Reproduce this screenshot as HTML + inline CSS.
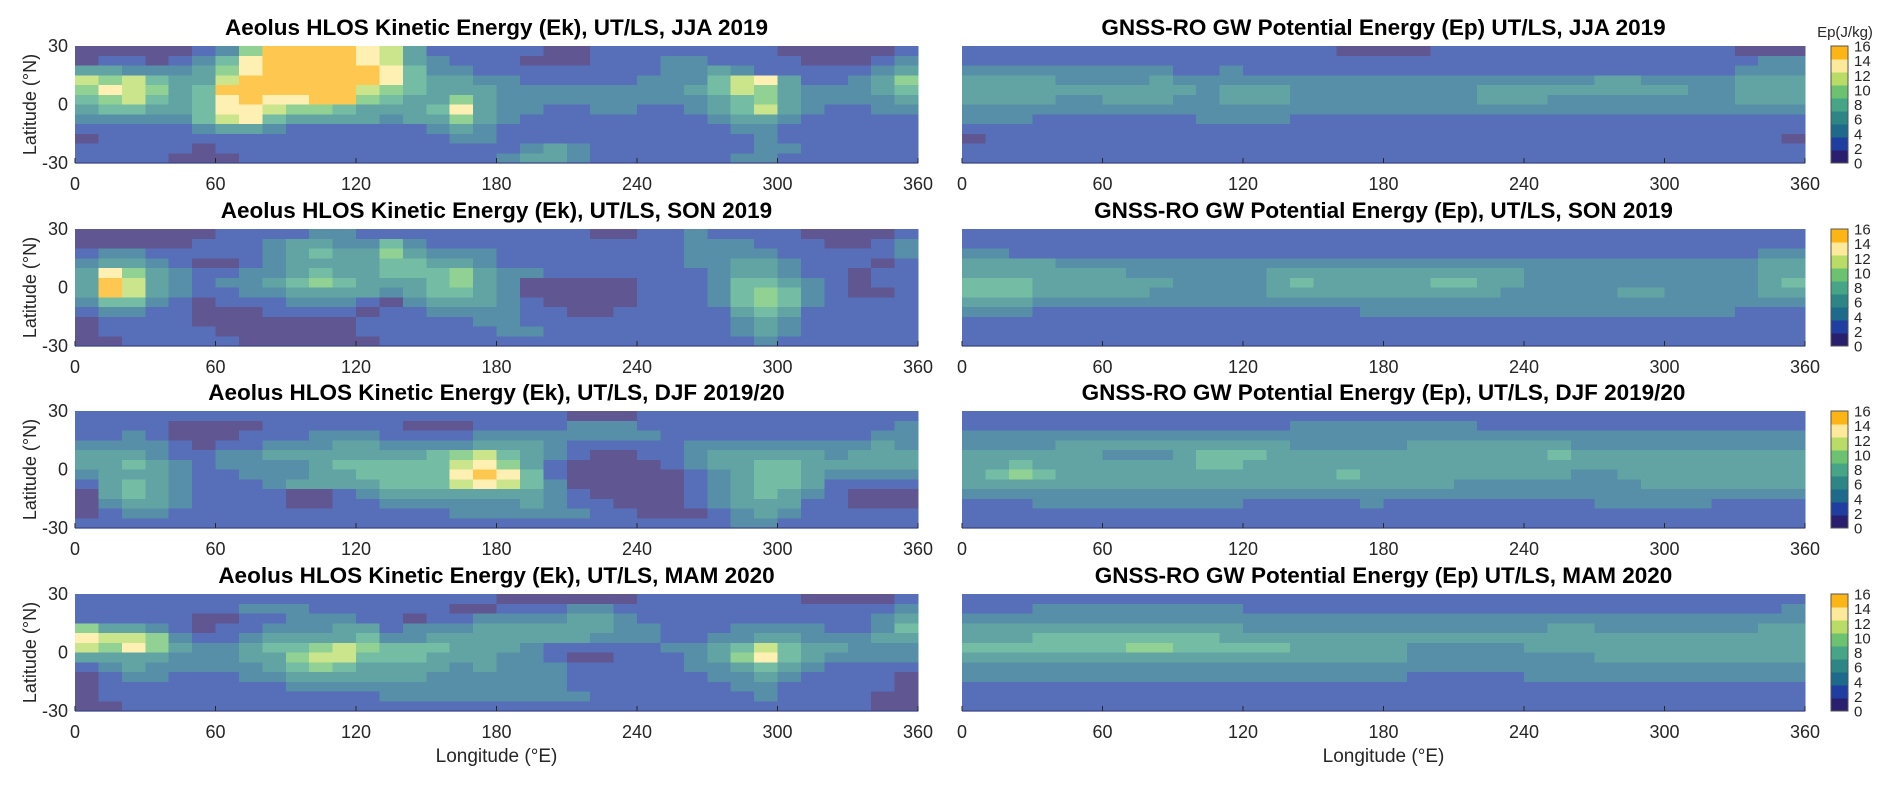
<!DOCTYPE html>
<html><head><meta charset="utf-8"><style>
html,body{margin:0;padding:0;background:#fff;}
svg{display:block;font-family:"Liberation Sans",Arial,sans-serif;}
</style></head><body>
<svg id="fig" width="1892" height="787" viewBox="0 0 1892 787" xmlns="http://www.w3.org/2000/svg"></svg>
<script>
// Bin levels (0..8 -> 0-2,2-4,...,16+ J/kg), rows from 27.5N to 27.5S, columns 0-10E ... 350-360E
const lonTicks = [0, 60, 120, 180, 240, 300, 360];
const latTicks = [30, 0, -30];
const cbarTicks = [16, 14, 12, 10, 8, 6, 4, 2, 0];
const titlesLeft = ["Aeolus HLOS Kinetic Energy (Ek), UT/LS, JJA 2019","Aeolus HLOS Kinetic Energy (Ek), UT/LS, SON 2019","Aeolus HLOS Kinetic Energy (Ek), UT/LS, DJF 2019/20","Aeolus HLOS Kinetic Energy (Ek), UT/LS, MAM 2020"];
const titlesRight = ["GNSS-RO GW Potential Energy (Ep) UT/LS, JJA 2019","GNSS-RO GW Potential Energy (Ep), UT/LS, SON 2019","GNSS-RO GW Potential Energy (Ep), UT/LS, DJF 2019/20","GNSS-RO GW Potential Energy (Ep) UT/LS, MAM 2020"];
const ekJJA = ["000001258888763111110011111111000001","011012478888763211100011122111100012","332223578888874221111111122321111123","656433688888874332211111222467311235","576534888888654333222222223465322234","456434787788543353222222222345322223","344334776554333473221122112346321122","222224674333323353211111111233211111","111112332111111232111111111122111111","011111111111111122111111111112111111","111110111111111111123211111112211111","111100011111111111233211111122111111"];
const ekSON = ["000000111122111111111100112111100001","000001112332242111111111112221110012","122111112343353222111111112222111112","233210012333344332111111112233211101","375321122343344453221111111233211011","386321223454333453200000111244321011","386321122333323443200000111245421001","244210111222102333210000111245421111","122110001111011222211001111134311111","011110000000111112211111111123211111","011111000000111111221111111123211111","001111100000011111111111111112111111"];
const ekDJF = ["111111111111111111111000111111111111","111100001111110001111222111111111112","112100011122211112222222211111111122","222210112223322223332111112222222232","333211223333333456432100112333332333","334321222234444467531000012334433333","233321122233444478741000001234432222","134321112333344467642000001234431111","034321111001233333332100001234321000","023321111001122222232110001233311000","012211111111111122222211000123211111","111111111111111111111111111122111111"];
const ekMAM = ["111111111111111111000000111111100001","111111122211111100111221111111111112","111110011222110112222332111111111123","533210112223312223333332211122221124","766521123333422333333322211223322233","657532234456544433321111122346433222","333322233566444333221001112357432222","123222223454333323222111112234321111","012211122333333222222111111223211110","011111111222222222222111111122111110","011111111111122222222211111112111100","001111111111111111111111111111111100"];
const epJJA = ["111111111111111100001111111111111000","111111111111111111111111111111111122","222222222112111111111111111111111222","333322223222222222222222222332222333","333333333323332222222233333333322333","333322333223332222222233322222222333","222222222222222222222222222222222222","222111111122221111111111111111111111","111111111111111111111111111111111111","011111111111111111111111111111111110","111111111111111111111111111111111111","111111111111111111111111111111111111"];
const epSON = ["111111111111111111111111111111111111","111111111111111111111111111111111111","221111111111111111111111111111111122","333322222222222222222222222222222233","333333322222233333333333222222222233","444333333222234333334433222222222234","444333332222233333333332222233222233","333222222222222222222222222222222222","222111111111111112222222222222222111","111111111111111111111111111111111111","111111111111111111111111111111111111","111111111111111111111111111111111111"];
const epDJF = ["111111111111111111111111111111111111","111111111111112222222211111111111111","222222222222222222222222222222222222","222233333333332222233333332222222222","333333222344433333333333343333333333","334333333344333333333333333333333333","345433333333333343333333332233333333","333333333333333333333222222223333333","222222222222222222222222222222222222","111222222222111112111111111222221111","111111111111111111111111111111111111","111111111111111111111111111111111111"];
const epMAM = ["111111111111111111111111111111111111","111222222222111111111111111111111112","222222222222222222222222222222222222","333333333333222222222222233222222233","333444444443333333333333333333333333","444444455444443333322222333333333333","333333333333333333322222222333333333","222222222222222222222222222222222222","222222222222222222211111222222222222","111111111111111111111111111111111111","111111111111111111111111111111111111","111111111111111111111111111111111111"];
const leftData = [ekJJA, ekSON, ekDJF, ekMAM];
const rightData = [epJJA, epSON, epDJF, epMAM];

const cbColors = ["#2a1e6e","#1f3ea0","#1d6a8a","#2e8585","#45a586","#6cc270","#b9dc67","#fde99a","#fdb515"];
const alpha = 0.75;
function blend(hex){
  const r=parseInt(hex.substr(1,2),16),g=parseInt(hex.substr(3,2),16),b=parseInt(hex.substr(5,2),16);
  const f=c=>Math.round(c*alpha+255*(1-alpha));
  return "rgb("+f(r)+","+f(g)+","+f(b)+")";
}
const mapColors = cbColors.map(blend);

const NS="http://www.w3.org/2000/svg";
const svg=document.getElementById('fig');
function el(tag, attrs, parent){
  const e=document.createElementNS(NS,tag);
  for(const k in attrs) e.setAttribute(k, attrs[k]);
  (parent||svg).appendChild(e); return e;
}
const W=843, H=117, colX=[75,962], rowY=[46,229,411,594];
function xScale(x0, lon){ return x0 + lon/360*W; }
function yScale(y0, lat){ return y0 + (30-lat)/60*H; }

function drawPanel(x0, y0, data, title, side, row){
  const g=el('g',{});
  
  
  const hm=el('g',{'shape-rendering':'crispEdges'},g);
  
  
  const nr=data.length;
  for(let r=0;r<nr;r++){
    const rowStr=data[r]; const nc=rowStr.length;
    const latTop=30-r*60/nr, latBot=30-(r+1)*60/nr;
    for(let c=0;c<nc;c++){
      const v=+rowStr[c];
      const lon0=c*360/nc, lon1=(c+1)*360/nc;
      const xa=xScale(x0,lon0), xb=xScale(x0,lon1), ya=yScale(y0,latTop), yb=yScale(y0,latBot);
      const rc=el('rect',{x:xa.toFixed(2),y:ya.toFixed(2),width:(xb-xa+0.6).toFixed(2),height:(yb-ya+0.6).toFixed(2),fill:mapColors[Math.min(8,Math.max(0,v))]},hm);
      
      
    }
  }
  const bl=el('line',{x1:x0,y1:y0+H,x2:x0+W,y2:y0+H,stroke:'#3b4686','stroke-width':1.2},g);
  
  
  const t=el('text',{x:x0+W/2,y:y0-11,'text-anchor':'middle','font-size':22.5,'font-weight':'bold',fill:'#000'},g);
  t.textContent=title;
  
  
  lonTicks.forEach(l=>{
    const tk=el('line',{x1:xScale(x0,l),y1:y0+H,x2:xScale(x0,l),y2:y0+H-5,stroke:'#262626','stroke-width':1},g);
    
    
    const tx=el('text',{x:xScale(x0,l),y:y0+H+27,'text-anchor':'middle','font-size':18,fill:'#262626'},g);
    tx.textContent=l;
    
    
  });
  if(side==='left'){
    latTicks.forEach(l=>{
      const ty=el('text',{x:x0-7,y:yScale(y0,l)+6,'text-anchor':'end','font-size':18,fill:'#262626'},g);
      ty.textContent=l;
      
      
    });
    const yt=el('text',{x:0,y:0,'text-anchor':'middle','font-size':18,fill:'#262626',transform:'translate(36,'+(y0+H/2)+') rotate(-90)'},g);
    yt.textContent='Latitude (°N)';
    
    
  }
}
function drawColorbar(y0,row){
  const g=el('g',{});
  
  
  const x=1831,w=17,n=cbColors.length;
  for(let i=0;i<n;i++){
    const r=el('rect',{x:x,y:(y0+H-(i+1)*H/n).toFixed(2),width:w,height:(H/n+0.5).toFixed(2),fill:cbColors[i],'shape-rendering':'crispEdges'},g);
    
    
  }
  el('rect',{x:x,y:y0,width:w,height:H,fill:'none',stroke:'#555','stroke-width':1},g);
  cbarTicks.forEach((v,i)=>{
    const t=el('text',{x:1854,y:(y0+i*H/(cbarTicks.length-1)+5.5).toFixed(1),'font-size':15,fill:'#262626'},g);
    t.textContent=v;
    
    
  });
}
for(let r=0;r<4;r++){
  drawPanel(colX[0],rowY[r],leftData[r],titlesLeft[r],'left',r);
  drawPanel(colX[1],rowY[r],rightData[r],titlesRight[r],'right',r);
  drawColorbar(rowY[r],r);
}
const cu=el('text',{x:1845,y:37,'text-anchor':'middle','font-size':15,fill:'#262626'});
cu.textContent='Ep(J/kg)';


[0,1].forEach(i=>{
  const xl=el('text',{x:colX[i]+W/2,y:762,'text-anchor':'middle','font-size':19,fill:'#262626'});
  xl.textContent='Longitude (°E)';
  
  
});
</script>
</body></html>
